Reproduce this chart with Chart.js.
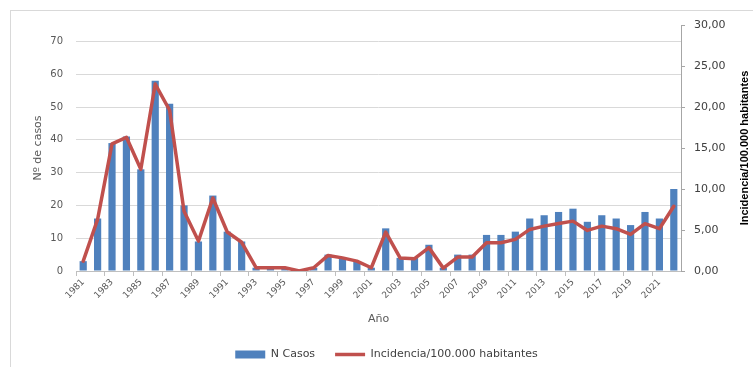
<!DOCTYPE html>
<html>
<head>
<meta charset="utf-8">
<script src="https://cdn.jsdelivr.net/npm/chart.js@4/dist/chart.umd.min.js"></script>
<style>
  html, body { margin: 0; padding: 0; background: #ffffff; }
  canvas { display: block; }
</style>
</head>
<body>
<canvas id="c" width="753" height="367"></canvas>
<script>
// Años de la serie
const years = [
  '1981','1982','1983','1984','1985','1986','1987','1988','1989','1990',
  '1991','1992','1993','1994','1995','1996','1997','1998','1999','2000',
  '2001','2002','2003','2004','2005','2006','2007','2008','2009','2010',
  '2011','2012','2013','2014','2015','2016','2017','2018','2019','2020',
  '2021','2022'
];

// Número de casos por año
const casos = [
  3, 16, 39, 41, 31, 58, 51, 20, 9, 23,
  12, 9, 1, 1, 1, 0, 1, 5, 4, 3,
  1, 13, 4, 4, 8, 1, 5, 5, 11, 11,
  12, 16, 17, 18, 19, 15, 17, 16, 14, 18,
  16, 25
];

// Incidencia por 100.000 habitantes
const incidencia = [
  1.2, 6.3, 15.5, 16.3, 12.4, 22.8, 19.6, 7.3, 3.65, 8.9,
  4.75, 3.5, 0.4, 0.4, 0.4, 0.0, 0.4, 1.9, 1.6, 1.2,
  0.4, 4.75, 1.6, 1.5, 2.85, 0.35, 1.7, 1.7, 3.45, 3.45,
  3.86, 5.07, 5.47, 5.8, 6.08, 4.95, 5.47, 5.16, 4.46, 5.77,
  5.16, 7.9
];

const casosTicks = [0, 10, 20, 30, 40, 50, 60, 70];
const incidenciaTicks = [0, 5, 10, 15, 20, 25, 30];

const leftTitle = 'Nº de casos';
const rightTitle = 'Incidencia/100.000 habitantes';
const xTitle = 'Año';

const FONT = 'DejaVu Sans';

// Marco exterior y fondo blanco
const framePlugin = {
  id: 'frame',
  beforeDraw(chart) {
    const ctx = chart.ctx;
    ctx.save();
    ctx.fillStyle = '#ffffff';
    ctx.fillRect(0, 0, chart.width, chart.height);
    ctx.strokeStyle = '#d9d9d9';
    ctx.lineWidth = 1;
    ctx.strokeRect(10.5, 10.5, chart.width + 20, chart.height + 20);
    ctx.restore();
  }
};

// Título del eje derecho, leído de abajo hacia arriba
const rightTitlePlugin = {
  id: 'rightTitle',
  afterDraw(chart) {
    const s = chart.scales.y1;
    const ctx = chart.ctx;
    ctx.save();
    ctx.translate(s.right - 8, (s.top + s.bottom) / 2);
    ctx.rotate(-Math.PI / 2);
    ctx.font = 'bold 11px "Liberation Sans Narrow", "Liberation Sans", sans-serif';
    ctx.fillStyle = '#000000';
    ctx.textAlign = 'center';
    ctx.textBaseline = 'middle';
    ctx.fillText(rightTitle, 0, 0);
    ctx.restore();
  }
};

// Desplaza la leyenda ligeramente a la derecha
const legendShiftPlugin = {
  id: 'legendShift',
  afterLayout(chart) {
    if (chart.legend) chart.legend.left += 20;
  }
};

new Chart(document.getElementById('c'), {
  data: {
    labels: years,
    datasets: [
      {
        type: 'bar',
        label: 'N Casos',
        data: casos,
        yAxisID: 'y',
        backgroundColor: '#4f81bd',
        borderWidth: 0,
        barPercentage: 0.5,
        categoryPercentage: 1.0,
        pointStyle: 'rect',
        order: 1
      },
      {
        type: 'line',
        label: 'Incidencia/100.000 habitantes',
        data: incidencia,
        yAxisID: 'y1',
        borderColor: '#c0504d',
        backgroundColor: '#c0504d',
        borderWidth: 3.5,
        pointRadius: 0,
        pointHoverRadius: 0,
        tension: 0,
        fill: false,
        pointStyle: 'line',
        borderJoinStyle: 'round',
        borderCapStyle: 'round',
        order: 0
      }
    ]
  },
  options: {
    responsive: false,
    devicePixelRatio: 1,
    animation: false,
    layout: { padding: { top: 25, left: 0, right: 0, bottom: -3 } },
    plugins: {
      tooltip: { enabled: false },
      legend: {
        position: 'bottom',
        labels: {
          usePointStyle: true,
          pointStyleWidth: 30,
          boxHeight: 8,
          padding: 20,
          color: '#404040',
          font: { family: FONT, size: 11 },
          sort: (a, b) => a.datasetIndex - b.datasetIndex
        }
      }
    },
    scales: {
      x: {
        type: 'category',
        offset: true,
        grid: {
          offset: true,
          drawOnChartArea: false,
          drawTicks: true,
          tickLength: 5,
          color: ctx => (ctx.index !== undefined && ctx.index % 2 === 0) ? '#bfbfbf' : 'rgba(0,0,0,0)'
        },
        border: { display: true, color: '#bfbfbf' },
        ticks: {
          autoSkip: false,
          maxRotation: 45,
          minRotation: 45,
          padding: 1,
          color: '#595959',
          font: { family: FONT, size: 9 },
          callback: (v, i) => (i % 2 === 0 ? years[i] : '')
        },
        title: {
          display: true,
          text: xTitle,
          color: '#595959',
          font: { family: FONT, size: 11 },
          padding: { top: 0, bottom: 3 }
        },
        afterFit: s => { s.height = 58; }
      },
      y: {
        type: 'linear',
        position: 'left',
        min: 0,
        max: 75,
        afterBuildTicks: s => { s.ticks = casosTicks.map(v => ({ value: v })); },
        ticks: {
          color: '#595959',
          padding: 13,
          font: { family: FONT, size: 10 }
        },
        grid: { color: '#d9d9d9', drawTicks: false },
        border: { display: false },
        title: {
          display: true,
          text: leftTitle,
          color: '#595959',
          font: { family: FONT, size: 11 },
          padding: { top: 32, bottom: 0 }
        },
        afterFit: s => { s.width = 76; }
      },
      y1: {
        type: 'linear',
        position: 'right',
        min: 0,
        max: 30,
        afterBuildTicks: s => { s.ticks = incidenciaTicks.map(v => ({ value: v })); },
        ticks: {
          color: '#404040',
          padding: 9,
          font: { family: FONT, size: 11 },
          callback: v => v.toFixed(2).replace('.', ',')
        },
        grid: { drawOnChartArea: false, drawTicks: true, tickLength: 4, color: '#a6a6a6' },
        border: { display: true, color: '#a6a6a6' },
        afterFit: s => { s.width = 72; }
      }
    }
  },
  plugins: [framePlugin, rightTitlePlugin, legendShiftPlugin]
});
</script>
</body>
</html>
